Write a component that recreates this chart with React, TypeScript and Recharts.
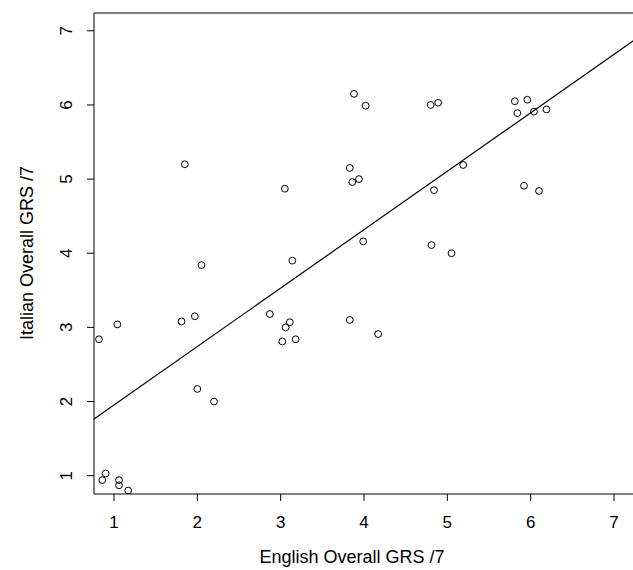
import React from 'react'
import { ScatterChart, Scatter, XAxis, YAxis, ReferenceArea, ReferenceLine } from 'recharts'

// English vs Italian overall GRS ratings (out of 7)
const englishScores = [
  0.86, 0.90, 1.06, 1.06, 1.17, 0.82, 1.04, 1.81, 1.97, 2.05, 1.85, 2.00, 2.20, 2.87,
  3.11, 3.06, 3.02, 3.18, 3.14, 3.05, 3.83, 4.17, 3.99, 3.83, 3.86, 3.94, 3.88, 4.02,
  4.80, 4.89, 5.19, 4.84, 4.81, 5.05, 5.92, 6.10, 5.81, 5.96, 5.84, 6.04, 6.19,
]
const italianScores = [
  0.94, 1.03, 0.94, 0.87, 0.80, 2.84, 3.04, 3.08, 3.15, 3.84, 5.20, 2.17, 2.00, 3.18,
  3.07, 3.00, 2.81, 2.84, 3.90, 4.87, 3.10, 2.91, 4.16, 5.15, 4.96, 5.00, 6.15, 5.99,
  6.00, 6.03, 5.19, 4.85, 4.11, 4.00, 4.91, 4.84, 6.05, 6.07, 5.89, 5.91, 5.94,
]
const axisTicks = [1, 2, 3, 4, 5, 6, 7]

// least-squares line drawn over the scatter
const fitIntercept = 1.166
const fitSlope = 0.788

const X_DOMAIN: [number, number] = [0.76, 7.24]
const Y_DOMAIN: [number, number] = [0.753, 7.24]

const FONT = '"Liberation Sans", Arial, Helvetica, sans-serif'

const points = englishScores.map((x, i) => ({ x, y: italianScores[i] }))

const XTick = ({ x, y, payload }: any) => (
  <text x={x} y={y + 25} textAnchor="middle" fontSize={17} fontFamily={FONT} fill="#000">
    {payload.value}
  </text>
)

const YTick = ({ x, y, payload }: any) => (
  <text
    transform={`translate(${x - 13},${y}) rotate(-90)`}
    textAnchor="middle"
    fontSize={17}
    fontFamily={FONT}
    fill="#000"
  >
    {payload.value}
  </text>
)

const Dot = ({ cx, cy }: any) => <circle cx={cx} cy={cy} r={3.4} fill="none" stroke="#000" strokeWidth={1} />

export default function App() {
  return (
    <div style={{ position: 'fixed', left: 0, top: 0, width: 633, height: 570, overflow: 'hidden', background: '#fff' }}>
      <ScatterChart width={640} height={570} margin={{ top: 13, right: 6, bottom: 0, left: 0 }}>
        <XAxis
          type="number"
          dataKey="x"
          domain={X_DOMAIN}
          ticks={axisTicks}
          allowDataOverflow
          axisLine={false}
          tickLine={{ stroke: '#000' }}
          tickSize={7}
          height={76}
          tick={<XTick />}
          label={{
            content: () => (
              <text x={352} y={563} textAnchor="middle" fontSize={18} fontFamily={FONT} fill="#000">
                English Overall GRS /7
              </text>
            ),
          }}
        />
        <YAxis
          type="number"
          dataKey="y"
          domain={Y_DOMAIN}
          ticks={axisTicks}
          allowDataOverflow
          axisLine={false}
          tickLine={{ stroke: '#000' }}
          tickSize={7}
          width={94}
          tick={<YTick />}
          label={{
            content: () => (
              <text
                transform="translate(33,253) rotate(-90)"
                textAnchor="middle"
                fontSize={18}
                fontFamily={FONT}
                fill="#000"
              >
                Italian Overall GRS /7
              </text>
            ),
          }}
        />
        <ReferenceArea
          x1={X_DOMAIN[0]}
          x2={X_DOMAIN[1]}
          y1={Y_DOMAIN[0]}
          y2={Y_DOMAIN[1]}
          fill="none"
          stroke="#000"
          strokeWidth={1}
          ifOverflow="extendDomain"
        />
        <ReferenceLine
          segment={[
            { x: X_DOMAIN[0], y: fitIntercept + fitSlope * X_DOMAIN[0] },
            { x: X_DOMAIN[1], y: fitIntercept + fitSlope * X_DOMAIN[1] },
          ]}
          stroke="#000"
          strokeWidth={1.2}
        />
        <Scatter data={points} shape={<Dot />} isAnimationActive={false} />
      </ScatterChart>
    </div>
  )
}
